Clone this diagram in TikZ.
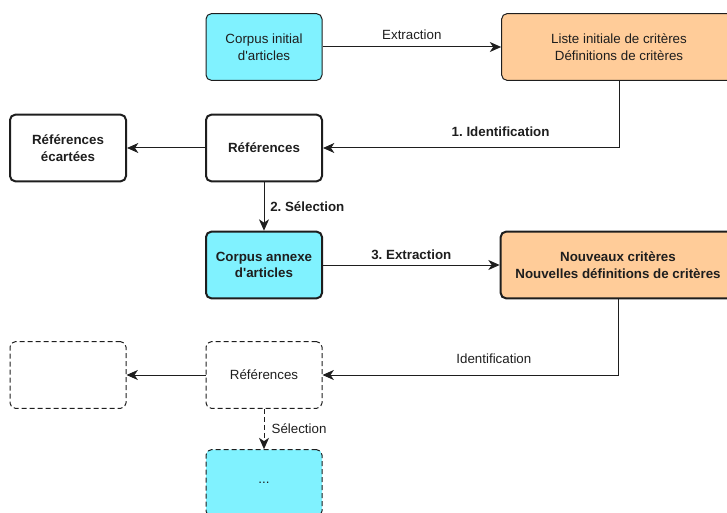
\documentclass[tikz,border=0pt]{standalone}
\usepackage{fontspec}
\setmainfont{Liberation Sans}
\definecolor{boxcyan}{RGB}{128,242,255}
\definecolor{boxorange}{RGB}{255,204,153}
\definecolor{boxline}{RGB}{30,30,30}
\usetikzlibrary{arrows.meta,positioning}
\frenchspacing

\begin{document}
\begin{tikzpicture}[x=0.75pt,y=-0.75pt,
  box/.style={draw=boxline, rounded corners=4pt, line width=0.75pt, minimum width=87pt, minimum height=50pt, align=center, text=boxline, font=\fontsize{10}{12.5}\selectfont},
  wide/.style={minimum width=176pt},
  strong/.style={line width=1.5pt, font=\fontsize{10}{12.5}\selectfont\bfseries},
  ghost/.style={dash pattern=on 3.75pt off 2.25pt},
  link/.style={draw=boxline, line width=0.75pt, -{Stealth[length=8.5pt,width=7.5pt,inset=2.5pt]}},
  lbl/.style={text=boxline, font=\fontsize{10}{12}\selectfont},
  blbl/.style={lbl, font=\fontsize{10}{12}\selectfont\bfseries}]
  \useasboundingbox (0,0) rectangle (727,513);
  \clip (0,0) rectangle (727,513);
  % first pass
  \node[box, fill=boxcyan] (corpusinit) at (264,47) {Corpus initial\\d\textquotesingle articles};
  \node[box, wide, fill=boxorange] (critinit) at (619,47) {Liste initiale de critères\\Définitions de critères};
  \node[box, strong] (refs) at (264,148) {Références};
  \node[box, strong] (refsout) at (68,148) {Références\\écartées};
  \node[box, strong, fill=boxcyan] (corpusannex) at (264,265) {Corpus annexe\\d\textquotesingle articles};
  \node[box, wide, strong, fill=boxorange] (critnew) at (618,265) {Nouveaux critères\\Nouvelles définitions de critères};
  % next pass
  \node[box, ghost] (refsnext) at (264,375) {Références};
  \node[box, ghost] (refsnextout) at (68,375) {};
  \node[box, ghost, fill=boxcyan] (corpusnext) at (264,483) {...};
  \draw[link] (corpusinit) -- node[lbl, above=2pt] {Extraction} (critinit);
  \draw[link] (critinit.south) |- node[blbl, pos=0.7, above=4.5pt] {1. Identification} (refs);
  \draw[link] (refs) -- (refsout);
  \draw[link] (refs) -- node[blbl, right=1pt] {2. Sélection} (corpusannex);
  \draw[link] (corpusannex) -- node[blbl, above=0.5pt] {3. Extraction} (critnew);
  \draw[link] (critnew.south) |- node[lbl, pos=0.71, above=5pt] {Identification} (refsnext);
  \draw[link] (refsnext) -- (refsnextout);
  \draw[link, ghost] (refsnext) -- node[lbl, right=2pt] {Sélection} (corpusnext);
\end{tikzpicture}
\end{document}
